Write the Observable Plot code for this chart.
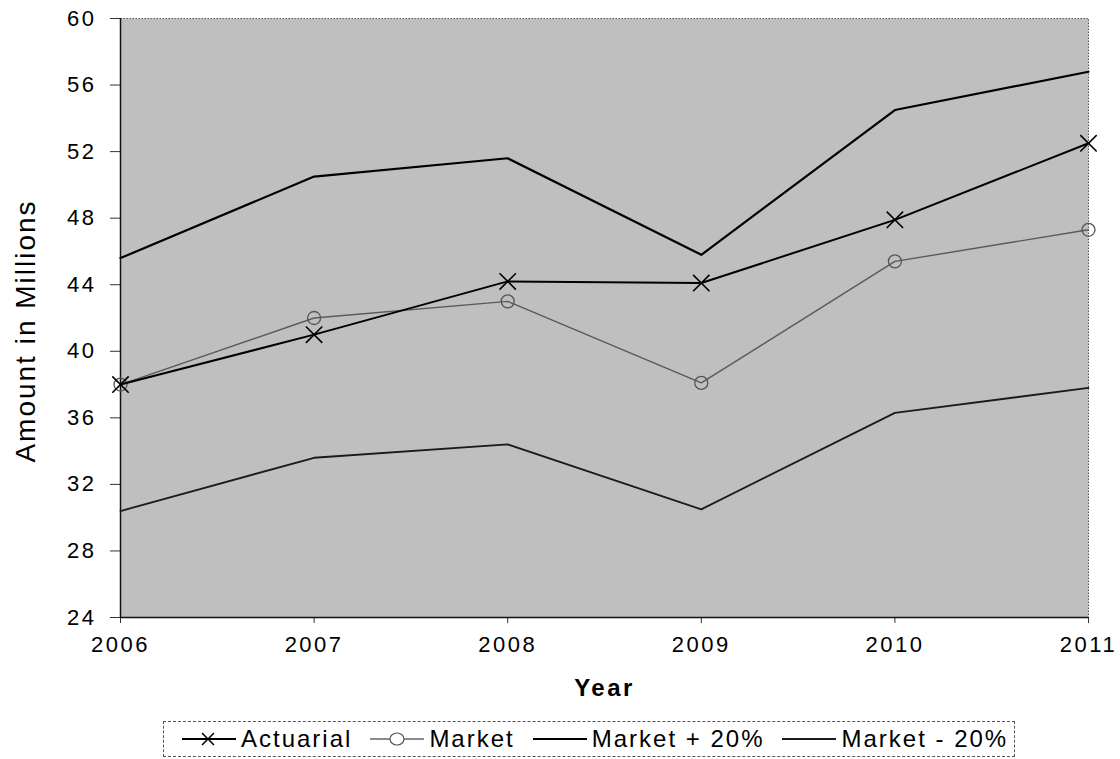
<!DOCTYPE html>
<html>
<head>
<meta charset="utf-8">
<script src="https://cdn.jsdelivr.net/npm/d3@7"></script>
<script src="https://cdn.jsdelivr.net/npm/@observablehq/plot@0.6"></script>
<style>
  html, body { margin: 0; padding: 0; background: #fff; }
  body { width: 1120px; height: 759px; position: relative; overflow: hidden; font-family: "Liberation Sans", Arial, sans-serif; }
  #chart svg text { letter-spacing: 2.5px; }
  #chart svg .ylab text { letter-spacing: 2px; }
  #legend { position: absolute; left: 163px; top: 721px; height: 36px; border: 1px dashed #555; display: flex; align-items: center; padding: 0 6px 0 18px; box-sizing: border-box; white-space: nowrap; }
  .item { display: flex; align-items: center; margin-right: 18px; }
  .item:last-child { margin-right: 0; }
  .item span { font-size: 24px; letter-spacing: 2px; color: #000; margin-left: 5px; }
</style>
</head>
<body>
<div id="chart"></div>
<div id="legend"></div>
<script>
const years = [2006, 2007, 2008, 2009, 2010, 2011];
const actuarial = [38.0, 41.0, 44.2, 44.1, 47.9, 52.5];
const market = [38.0, 42.0, 43.0, 38.1, 45.4, 47.3];
const marketPlus20 = [45.6, 50.5, 51.6, 45.8, 54.5, 56.8];
const marketMinus20 = [30.4, 33.6, 34.4, 30.5, 36.3, 37.8];
const yTicks = [24, 28, 32, 36, 40, 44, 48, 52, 56, 60];
const seriesNames = ["Actuarial", "Market", "Market + 20%", "Market - 20%"];
const xLabel = "Year";
const yLabel = "Amount in Millions";

const toRows = (name, vals) => years.map((yr, i) => ({series: name, year: yr, value: vals[i]}));
const actRows = toRows(seriesNames[0], actuarial);
const mktRows = toRows(seriesNames[1], market);
const plusRows = toRows(seriesNames[2], marketPlus20);
const minusRows = toRows(seriesNames[3], marketMinus20);

const chart = Plot.plot({
  width: 1120,
  height: 712,
  marginTop: 18,
  marginBottom: 95,
  marginLeft: 120,
  marginRight: 32,
  style: {fontFamily: "'Liberation Sans', Arial, sans-serif", fontSize: "22px", background: "#fff", color: "#000", overflow: "visible"},
  x: {domain: [2006, 2011], ticks: years, tickFormat: d => String(d), label: null},
  y: {domain: [24, 60], ticks: yTicks, label: null},
  marks: [
    Plot.frame({fill: "#bfbfbf", stroke: "#555", strokeDasharray: "1.5,1.5"}),
    Plot.axisY({ticks: yTicks, tickSize: 10, tickPadding: 14, label: null, stroke: "#333"}),
    Plot.axisX({ticks: years, tickSize: 6, tickPadding: 13, tickFormat: d => String(d), label: null, stroke: "#333"}),
    Plot.ruleX([2006], {stroke: "#111", strokeWidth: 1.5}),
    Plot.ruleY([24], {stroke: "#111", strokeWidth: 1.5}),
    Plot.line(minusRows, {x: "year", y: "value", stroke: "#1a1a1a", strokeWidth: 1.8}),
    Plot.line(plusRows, {x: "year", y: "value", stroke: "#000", strokeWidth: 2.2}),
    Plot.line(mktRows, {x: "year", y: "value", stroke: "#5a5a5a", strokeWidth: 1.4}),
    Plot.dot(mktRows, {x: "year", y: "value", r: 6.5, stroke: "#555", strokeWidth: 1.3, fill: "none"}),
    Plot.line(actRows, {x: "year", y: "value", stroke: "#000", strokeWidth: 2}),
    Plot.dot(actRows, {x: "year", y: "value", symbol: "times", r: 7.5, stroke: "#000", strokeWidth: 1.6}),
    Plot.text([xLabel], {frameAnchor: "bottom", dy: 78, fontWeight: "bold", fontSize: 24}),
    Plot.text([yLabel], {frameAnchor: "left", textAnchor: "middle", dx: -94, dy: 13, rotate: -90, fontSize: 28, className: "ylab"})
  ]
});
document.getElementById("chart").appendChild(chart);

// Legend
const legend = d3.select("#legend");
const swatches = [
  {name: seriesNames[0], stroke: "#000", width: 2, marker: "times"},
  {name: seriesNames[1], stroke: "#666", width: 1.3, marker: "circle"},
  {name: seriesNames[2], stroke: "#000", width: 2, marker: null},
  {name: seriesNames[3], stroke: "#1a1a1a", width: 1.8, marker: null}
];
swatches.forEach(s => {
  const item = legend.append("div").attr("class", "item");
  const svg = item.append("svg").attr("width", 54).attr("height", 20);
  svg.append("line").attr("x1", 0).attr("x2", 54).attr("y1", 10).attr("y2", 10)
    .attr("stroke", s.stroke).attr("stroke-width", s.width);
  if (s.marker === "times") {
    svg.append("path").attr("d", "M20,4L32,16M20,16L32,4").attr("stroke", "#000").attr("stroke-width", 1.5);
  } else if (s.marker === "circle") {
    svg.append("ellipse").attr("cx", 27).attr("cy", 10).attr("rx", 7).attr("ry", 6)
      .attr("fill", "#fff").attr("stroke", "#555").attr("stroke-width", 1.2);
  }
  item.append("span").text(s.name);
});
</script>
</body>
</html>
